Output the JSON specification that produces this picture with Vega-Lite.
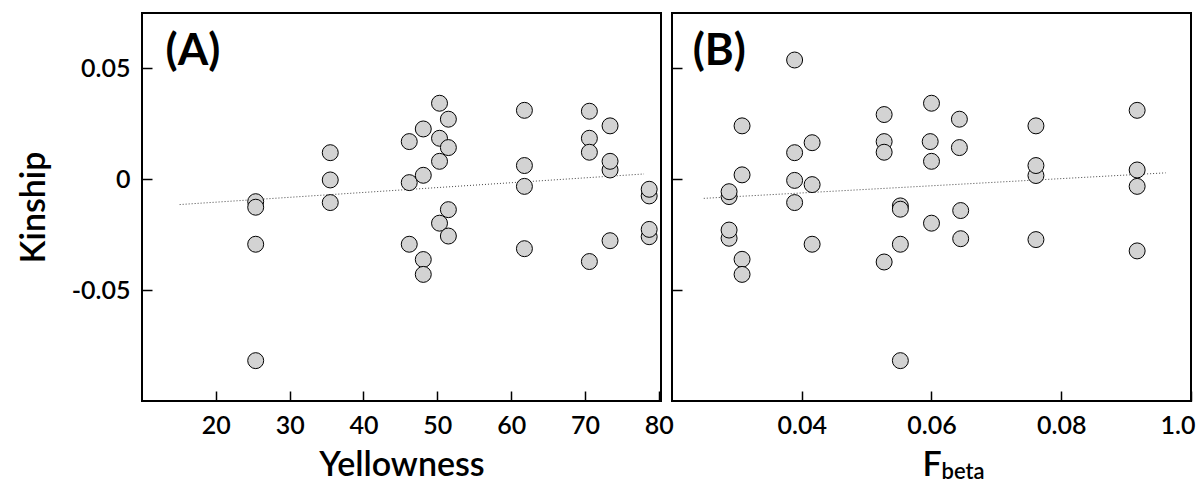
{
  "$schema": "https://vega.github.io/schema/vega-lite/v6.json",
  "background": "white",
  "padding": {"left": 16, "top": 12, "right": 5, "bottom": 2},
  "bounds": "flush",
  "spacing": 11,
  "config": {
    "font": "Lato",
    "view": {"stroke": "black", "strokeWidth": 2},
    "axis": {
      "domain": false, "grid": false,
      "tickColor": "black", "tickWidth": 1.5, "tickSize": -10,
      "labelFont": "Lato", "labelFontSize": 25, "labelFontWeight": 600, "labelColor": "black", "labelPadding": 22,
      "titleFont": "Lato", "titleFontSize": 34, "titleFontWeight": 600, "titleColor": "black"
    }
  },
  "datasets": {
    "yellow": [
      {"yellowness": 25.4, "kinship": -0.0101}, {"yellowness": 25.4, "kinship": -0.0126}, {"yellowness": 25.4, "kinship": -0.0293}, {"yellowness": 25.4, "kinship": -0.0818},
      {"yellowness": 35.5, "kinship": 0.0120}, {"yellowness": 35.5, "kinship": -0.0003}, {"yellowness": 35.5, "kinship": -0.0105},
      {"yellowness": 46.2, "kinship": 0.0170}, {"yellowness": 46.2, "kinship": -0.0015}, {"yellowness": 46.2, "kinship": -0.0293},
      {"yellowness": 48.1, "kinship": 0.0227}, {"yellowness": 48.1, "kinship": 0.0018}, {"yellowness": 48.1, "kinship": -0.0362}, {"yellowness": 48.1, "kinship": -0.0429},
      {"yellowness": 50.3, "kinship": 0.0343}, {"yellowness": 50.3, "kinship": 0.0185}, {"yellowness": 50.3, "kinship": 0.0081}, {"yellowness": 50.3, "kinship": -0.0198},
      {"yellowness": 51.5, "kinship": 0.0271}, {"yellowness": 51.5, "kinship": 0.0143}, {"yellowness": 51.5, "kinship": -0.0137}, {"yellowness": 51.5, "kinship": -0.0256},
      {"yellowness": 61.8, "kinship": 0.0311}, {"yellowness": 61.8, "kinship": 0.0062}, {"yellowness": 61.8, "kinship": -0.0032}, {"yellowness": 61.8, "kinship": -0.0313},
      {"yellowness": 70.6, "kinship": 0.0307}, {"yellowness": 70.6, "kinship": 0.0185}, {"yellowness": 70.6, "kinship": 0.0122}, {"yellowness": 70.6, "kinship": -0.0371},
      {"yellowness": 73.4, "kinship": 0.0241}, {"yellowness": 73.4, "kinship": 0.0042}, {"yellowness": 73.4, "kinship": 0.0081}, {"yellowness": 73.4, "kinship": -0.0277},
      {"yellowness": 78.7, "kinship": -0.0075}, {"yellowness": 78.7, "kinship": -0.0045}, {"yellowness": 78.7, "kinship": -0.0259}, {"yellowness": 78.7, "kinship": -0.0226}
    ],
    "fbeta": [
      {"fbeta": 0.0288, "kinship": -0.0078}, {"fbeta": 0.0288, "kinship": -0.0056}, {"fbeta": 0.0288, "kinship": -0.0266}, {"fbeta": 0.0288, "kinship": -0.0229},
      {"fbeta": 0.0308, "kinship": 0.0241}, {"fbeta": 0.0308, "kinship": 0.0020}, {"fbeta": 0.0308, "kinship": -0.0361}, {"fbeta": 0.0308, "kinship": -0.0429},
      {"fbeta": 0.0389, "kinship": 0.0538}, {"fbeta": 0.0389, "kinship": 0.0120}, {"fbeta": 0.0389, "kinship": -0.0005}, {"fbeta": 0.0389, "kinship": -0.0105},
      {"fbeta": 0.0416, "kinship": 0.0165}, {"fbeta": 0.0416, "kinship": -0.0024}, {"fbeta": 0.0416, "kinship": -0.0293},
      {"fbeta": 0.0527, "kinship": 0.0292}, {"fbeta": 0.0527, "kinship": 0.0170}, {"fbeta": 0.0527, "kinship": 0.0122}, {"fbeta": 0.0527, "kinship": -0.0373},
      {"fbeta": 0.0552, "kinship": -0.0120}, {"fbeta": 0.0552, "kinship": -0.0135}, {"fbeta": 0.0552, "kinship": -0.0293}, {"fbeta": 0.0552, "kinship": -0.0818},
      {"fbeta": 0.0600, "kinship": 0.0343}, {"fbeta": 0.0598, "kinship": 0.0170}, {"fbeta": 0.0600, "kinship": 0.0081}, {"fbeta": 0.0600, "kinship": -0.0198},
      {"fbeta": 0.0643, "kinship": 0.0271}, {"fbeta": 0.0643, "kinship": 0.0143}, {"fbeta": 0.0645, "kinship": -0.0141}, {"fbeta": 0.0645, "kinship": -0.0268},
      {"fbeta": 0.0761, "kinship": 0.0241}, {"fbeta": 0.0761, "kinship": 0.0017}, {"fbeta": 0.0761, "kinship": 0.0062}, {"fbeta": 0.0761, "kinship": -0.0272},
      {"fbeta": 0.0917, "kinship": 0.0311}, {"fbeta": 0.0917, "kinship": 0.0042}, {"fbeta": 0.0917, "kinship": -0.0032}, {"fbeta": 0.0917, "kinship": -0.0323}
    ],
    "lineA": [
      {"yellowness": 15.1, "kinship": -0.0114}, {"yellowness": 78.0, "kinship": 0.0024}
    ],
    "lineB": [
      {"fbeta": 0.0249, "kinship": -0.0086}, {"fbeta": 0.0961, "kinship": 0.0029}
    ]
  },
  "hconcat": [
    {
      "width": 519, "height": 388,
      "layer": [
        {
          "data": {"name": "lineA"},
          "mark": {"type": "line", "color": "#444444", "strokeWidth": 1, "strokeDash": [1, 2]},
          "encoding": {
            "x": {"field": "yellowness", "type": "quantitative",
                  "scale": {"domain": [10, 80.3], "nice": false, "zero": false},
                  "axis": {"title": "Yellowness", "values": [20, 30, 40, 50, 60, 70, 80], "format": "d", "titlePadding": 10}},
            "y": {"field": "kinship", "type": "quantitative",
                  "scale": {"domain": [-0.1, 0.075], "nice": false, "zero": false},
                  "axis": {"title": "Kinship", "values": [-0.05, 0, 0.05], "titlePadding": 20,
                           "labelExpr": "datum.value > 0 ? '0.05' : datum.value < 0 ? '-0.05' : '0'"}}
          }
        },
        {
          "data": {"name": "yellow"},
          "mark": {"type": "circle", "fill": "#d3d3d3", "stroke": "black", "strokeWidth": 1, "size": 255, "opacity": 1},
          "encoding": {
            "x": {"field": "yellowness", "type": "quantitative"},
            "y": {"field": "kinship", "type": "quantitative"}
          }
        },
        {
          "data": {"values": [{"label": "(A)"}]},
          "mark": {"type": "text", "align": "left", "baseline": "alphabetic", "fontSize": 44, "fontWeight": "bold", "font": "Lato", "color": "black"},
          "encoding": {
            "x": {"datum": 13.2, "type": "quantitative"},
            "y": {"datum": 0.0515, "type": "quantitative"},
            "text": {"field": "label"}
          }
        }
      ]
    },
    {
      "width": 519, "height": 388,
      "layer": [
        {
          "data": {"name": "lineB"},
          "mark": {"type": "line", "color": "#444444", "strokeWidth": 1, "strokeDash": [1, 2]},
          "encoding": {
            "x": {"field": "fbeta", "type": "quantitative",
                  "scale": {"domain": [0.02, 0.1], "nice": false, "zero": false},
                  "axis": {"title": "F", "values": [0.04, 0.06, 0.08, 0.1], "titlePadding": 10, "labelFlush": true, "labelFlushOffset": 4,
                           "labelExpr": "datum.value > 0.09 ? '1.0' : format(datum.value, '.2f')"}},
            "y": {"field": "kinship", "type": "quantitative",
                  "scale": {"domain": [-0.1, 0.075], "nice": false, "zero": false},
                  "axis": {"title": null, "values": [-0.05, 0, 0.05], "labels": false}}
          }
        },
        {
          "data": {"name": "fbeta"},
          "mark": {"type": "circle", "fill": "#d3d3d3", "stroke": "black", "strokeWidth": 1, "size": 255, "opacity": 1},
          "encoding": {
            "x": {"field": "fbeta", "type": "quantitative"},
            "y": {"field": "kinship", "type": "quantitative"}
          }
        },
        {
          "data": {"values": [{"label": "(B)"}]},
          "mark": {"type": "text", "align": "left", "baseline": "alphabetic", "fontSize": 44, "fontWeight": "bold", "font": "Lato", "color": "black"},
          "encoding": {
            "x": {"datum": 0.0232, "type": "quantitative"},
            "y": {"datum": 0.0515, "type": "quantitative"},
            "text": {"field": "label"}
          }
        },
        {
          "data": {"values": [{"label": "beta"}]},
          "mark": {"type": "text", "align": "left", "baseline": "alphabetic", "fontSize": 22, "fontWeight": 600, "font": "Lato", "color": "black", "dx": 10, "dy": 78},
          "encoding": {
            "x": {"datum": 0.06, "type": "quantitative"},
            "y": {"datum": -0.1, "type": "quantitative"},
            "text": {"field": "label"}
          }
        }
      ]
    }
  ]
}
